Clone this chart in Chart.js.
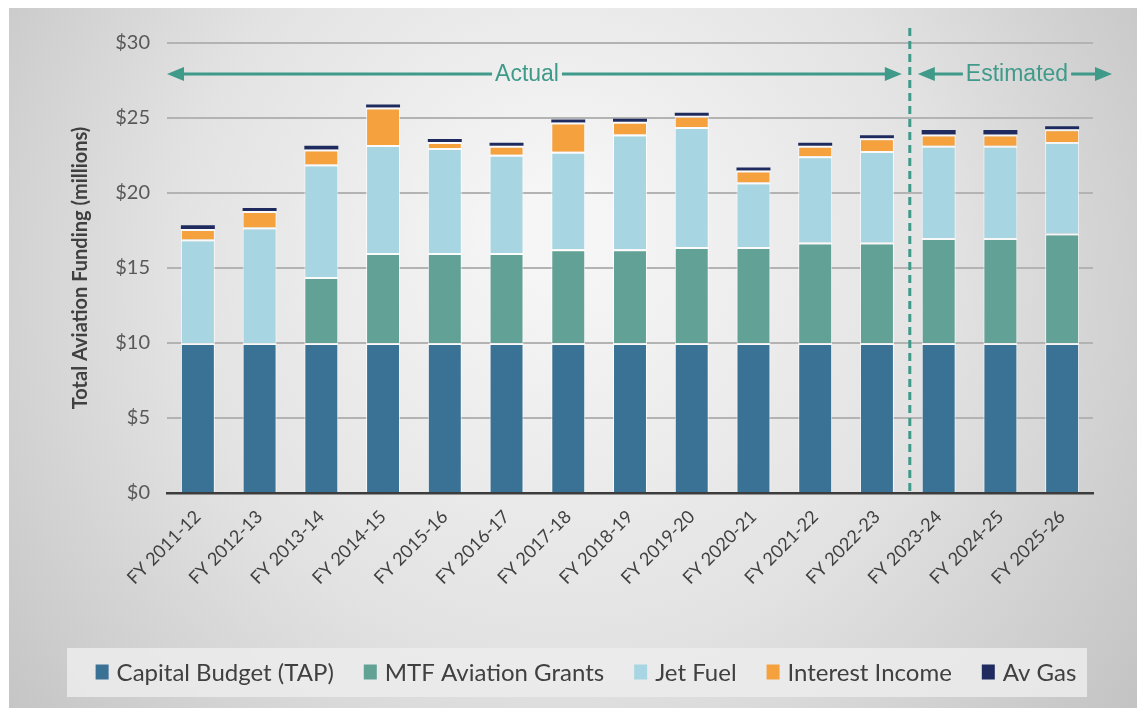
<!DOCTYPE html>
<html>
<head>
<meta charset="utf-8">
<script src="https://cdn.jsdelivr.net/npm/chart.js@4.4.1/dist/chart.umd.min.js"></script>
<style>
  html, body { margin: 0; padding: 0; background: #ffffff; }
  #wrap { width: 1137px; height: 708px; position: relative; }
</style>
</head>
<body>
<div id="wrap"><canvas id="fundingChart" width="1137" height="708"></canvas></div>
<script>
// Fiscal years along the x axis
const categories = [
    "FY 2011-12", "FY 2012-13", "FY 2013-14", "FY 2014-15", "FY 2015-16",
    "FY 2016-17", "FY 2017-18", "FY 2018-19", "FY 2019-20", "FY 2020-21",
    "FY 2021-22", "FY 2022-23", "FY 2023-24", "FY 2024-25", "FY 2025-26"
];

// Funding by source, $ millions
const capitalBudget = [10, 10, 10, 10, 10, 10, 10, 10, 10, 10, 10, 10, 10, 10, 10];
const mtfGrants = [0, 0, 4.4, 6.0, 6.0, 6.0, 6.25, 6.25, 6.4, 6.4, 6.7, 6.7, 7.0, 7.0, 7.3];
const jetFuel = [6.9, 7.7, 7.5, 7.2, 7.0, 6.55, 6.5, 7.65, 8.0, 4.3, 5.75, 6.1, 6.15, 6.15, 6.1];
const interestIncome = [0.7, 1.1, 1.0, 2.5, 0.4, 0.6, 1.95, 0.85, 0.75, 0.8, 0.7, 0.85, 0.75, 0.75, 0.85];
const avGas = [0.25, 0.2, 0.25, 0.2, 0.2, 0.2, 0.2, 0.2, 0.2, 0.2, 0.2, 0.2, 0.3, 0.3, 0.2];

const seriesLabels = ["Capital Budget (TAP)", "MTF Aviation Grants", "Jet Fuel", "Interest Income", "Av Gas"];
const yTicks = [0, 5, 10, 15, 20, 25, 30];

// Actual vs estimated split (index of first estimated year)
const firstEstimated = 12;
const periodLabels = ["Actual", "Estimated"];

const colors = ["#3a7296", "#62a195", "#a7d6e2", "#f5a13e", "#1f2b5e"];
const teal = "#3f9a8a";

// Gray backdrop, lighter in the middle
const backdrop = {
    id: "backdrop",
    beforeDraw(chart) {
        const ctx = chart.ctx;
        ctx.save();
        ctx.fillStyle = "#ffffff";
        ctx.fillRect(0, 0, chart.width, chart.height);
        const g = ctx.createRadialGradient(560, 230, 40, 560, 300, 720);
        g.addColorStop(0, "#f6f6f6");
        g.addColorStop(0.5, "#e3e3e3");
        g.addColorStop(1, "#c2c2c2");
        ctx.fillStyle = g;
        ctx.fillRect(9, 8, chart.width - 9, chart.height - 8);
        ctx.restore();
    }
};

// Legend drawn by hand so the spacing matches
const bottomLegend = {
    id: "bottomLegend",
    afterDraw(chart) {
        const ctx = chart.ctx;
        ctx.save();
        ctx.fillStyle = "rgba(236,236,236,0.85)";
        ctx.fillRect(67, 648, 1020, 49);
        ctx.font = "24px Lato";
        ctx.textBaseline = "middle";
        const boxW = 13, boxH = 15, gapText = 8, gapItem = 30;
        const widths = chart.data.datasets.map(ds => ctx.measureText(ds.label).width);
        let total = 0;
        widths.forEach((w, i) => { total += boxW + gapText + w + (i < widths.length - 1 ? gapItem : 0); });
        let x = 586 - total / 2;
        const y = 672;
        chart.data.datasets.forEach((ds, i) => {
            ctx.fillStyle = ds.backgroundColor;
            ctx.fillRect(x, y - boxH / 2, boxW, boxH);
            ctx.fillStyle = "#404040";
            ctx.fillText(ds.label, x + boxW + gapText, y + 1);
            x += boxW + gapText + widths[i] + gapItem;
        });
        ctx.restore();
    }
};

// Dashed divider and the Actual / Estimated arrows
const periods = {
    id: "periods",
    afterDraw(chart) {
        const ctx = chart.ctx;
        const xs = chart.scales.x;
        const area = chart.chartArea;
        const split = (xs.getPixelForValue(firstEstimated - 1) + xs.getPixelForValue(firstEstimated)) / 2 + 2;
        ctx.save();
        ctx.strokeStyle = teal;
        ctx.lineWidth = 3;
        ctx.setLineDash([8, 5]);
        ctx.beginPath();
        ctx.moveTo(split, 28);
        ctx.lineTo(split, area.bottom);
        ctx.stroke();
        ctx.setLineDash([]);

        const y = 74;
        ctx.font = "23px 'Liberation Sans'";
        ctx.textAlign = "center";
        ctx.textBaseline = "middle";

        function arrowHead(tipX, dir) {
            ctx.beginPath();
            ctx.moveTo(tipX, y);
            ctx.lineTo(tipX - dir * 17, y - 7);
            ctx.lineTo(tipX - dir * 17, y + 7);
            ctx.closePath();
            ctx.fill();
        }
        function span(x0, x1, label, mid) {
            const w = ctx.measureText(label).width;
            ctx.fillStyle = teal;
            ctx.fillText(label, mid, y + 1);
            ctx.lineWidth = 3;
            ctx.beginPath();
            ctx.moveTo(x0 + 10, y);
            ctx.lineTo(mid - w / 2 - 3, y);
            ctx.moveTo(mid + w / 2 + 3, y);
            ctx.lineTo(x1 - 10, y);
            ctx.stroke();
            arrowHead(x0, -1);
            arrowHead(x1, 1);
        }
        span(area.left, split - 8, periodLabels[0], 527);
        span(split + 8, area.right + 19, periodLabels[1], 1017);
        ctx.restore();
    }
};

const segBorder = { top: 2, left: 1, right: 1, bottom: 0 };
const seriesData = [capitalBudget, mtfGrants, jetFuel, interestIncome, avGas];

const ctx = document.getElementById("fundingChart").getContext("2d");
new Chart(ctx, {
    type: "bar",
    data: {
        labels: categories,
        datasets: seriesData.map((vals, i) => ({
            label: seriesLabels[i],
            data: vals,
            backgroundColor: colors[i],
            borderColor: "rgba(255,255,255,0.75)",
            borderWidth: i === 4 ? 0 : segBorder,
            borderSkipped: false,
            categoryPercentage: 1,
            barPercentage: 0.55
        }))
    },
    options: {
        responsive: false,
        animation: false,
        layout: { padding: { left: 60, top: 43, right: 44, bottom: 95 } },
        plugins: {
            legend: { display: false },
            tooltip: { enabled: false }
        },
        scales: {
            x: {
                stacked: true,
                grid: { display: false, drawTicks: false },
                border: { display: true, color: "#3c3c3c", width: 2.5 },
                ticks: {
                    color: "#404040",
                    font: { family: "Lato", size: 18 },
                    minRotation: 45,
                    maxRotation: 45,
                    padding: 13,
                    autoSkip: false
                },
                afterFit(scale) { scale.height = 120; }
            },
            y: {
                stacked: true,
                min: 0,
                max: 30,
                afterBuildTicks(scale) { scale.ticks = yTicks.map(v => ({ value: v })); },
                grid: {
                    drawTicks: false,
                    lineWidth: 2,
                    color: "#b3b3b3"
                },
                border: { display: false },
                ticks: {
                    color: "#595959",
                    font: { family: "Lato", size: 20 },
                    padding: 17,
                    callback: v => "$" + v
                },
                title: {
                    display: true,
                    text: "Total Aviation Funding (millions)",
                    color: "#404040",
                    font: { family: "Lato", size: 20, weight: "bold" },
                    padding: { top: 9, bottom: 0 }
                },
                afterFit(scale) { scale.width = 107; }
            }
        }
    },
    plugins: [backdrop, bottomLegend, periods]
});
</script>
</body>
</html>
